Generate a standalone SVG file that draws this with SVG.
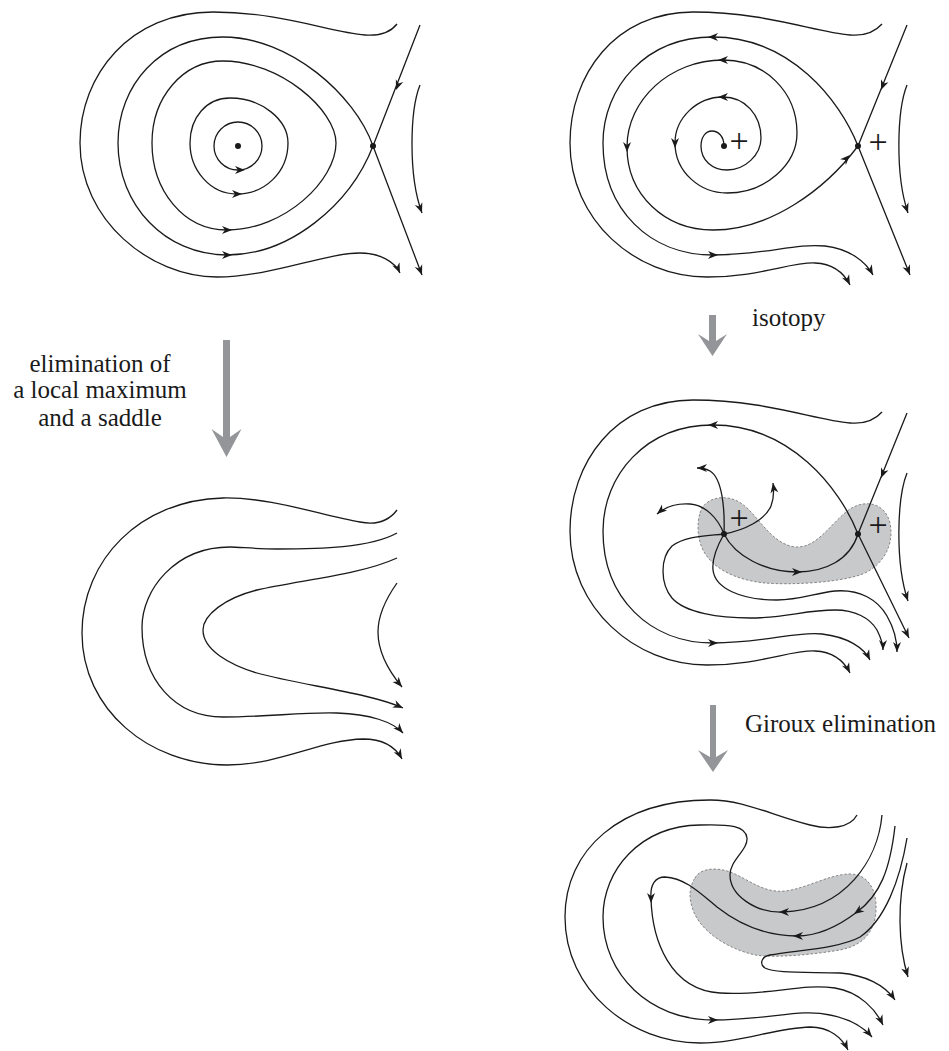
<svg xmlns="http://www.w3.org/2000/svg" width="949" height="1051" viewBox="0 0 949 1051">
<style>
.c{fill:none;stroke:#1a1a1a;stroke-width:1.3}
.e{marker-end:url(#me)}
.dot{fill:#1a1a1a}
.blob{fill:#c8c9cb;stroke:#7a7a7a;stroke-width:0.9;stroke-dasharray:2.5 1.8}
.big{fill:#939598}
.t{font-family:"Liberation Serif","Times New Roman",serif;font-size:25px;fill:#1a1a1a}
.p{font-family:"Liberation Serif","Times New Roman",serif;font-size:34px;fill:#1a1a1a;text-anchor:middle}
</style>
<defs>
<path id="ah" d="M0,0 L-10,-4 L-7,0 L-10,4 Z" fill="#1a1a1a"/>
<marker id="me" viewBox="-11 -5 12 10" refX="0" refY="0" markerWidth="12" markerHeight="10" markerUnits="userSpaceOnUse" orient="auto"><path d="M0,0 L-10,-4 L-7,0 L-10,4 Z" fill="#1a1a1a"/></marker>
</defs>

<!-- Panel 1 -->
<g id="panel1">
<path class="c e" d="M397,24 C390,33 378,36 365,35 C330,32 280,12 213,12 C130,12 80,75 80,143 C80,220 150,277 217,277 C270,277 325,253 360,253 C380,253 395,262 400,273"/>
<path class="c" d="M373,146 C355,95 290,37 223,37 C160,37 118,85 118,143 C118,205 165,255 227,255 C290,255 350,205 373,146"/>
<path class="c" d="M223,61 C280,61 336,110 336,143 C336,180 285,230 227,230 C183,230 152,190 152,143 C152,97 183,61 223,61 Z"/>
<path class="c" d="M230,98 C262,98 288,120 288,143 C288,172 265,194 237,194 C210,194 190,170 190,143 C190,117 207,98 230,98 Z"/>
<circle class="c" cx="238" cy="146" r="24"/>
<path class="c e" d="M420,25 L373,146 L422,275"/>
<path class="c e" d="M420,85 C410,110 408,175 422,213"/>
<circle class="dot" cx="238" cy="146" r="3"/>
<circle class="dot" cx="373" cy="146" r="3"/>
<use href="#ah" transform="translate(245,170)"/>
<use href="#ah" transform="translate(242,194)"/>
<use href="#ah" transform="translate(232,230)"/>
<use href="#ah" transform="translate(232,255)"/>
<use href="#ah" transform="translate(396,90) rotate(111)"/>
</g>

<!-- Panel 2 -->
<g id="panel2">
<path class="c e" d="M882,24 C874,33 862,36 850,35 C815,32 765,12 693,12 C615,12 570,75 570,143 C570,220 635,277 707,277 C760,277 790,262 815,263 C835,264 845,275 850,285"/>
<path class="c e" d="M858,146 C840,100 790,37 713,37 C645,37 603,88 603,143 C603,210 650,255 713,255 C765,255 795,243 825,246 C850,249 866,262 873,275"/>
<path class="c" d="M724,146 C724,136 718,131 712,131 C705,131 701,138 701,146 C701,160 712,170 727,170 C745,170 761,155 761,138 C761,115 745,97 723,97 C697,97 675,118 675,143 C675,172 700,193 727,193 C765,193 797,165 797,133 C797,92 765,60 723,60 C670,60 627,100 627,147 C627,195 665,230 713,230 C770,230 825,190 858,146"/>
<path class="c e" d="M907,25 L858,146 L910,275"/>
<path class="c e" d="M907,85 C897,110 895,175 908,213"/>
<circle class="dot" cx="724" cy="146" r="3"/>
<circle class="dot" cx="858" cy="146" r="3"/>
<text class="p" x="739" y="152">+</text>
<text class="p" x="878" y="153">+</text>
<use href="#ah" transform="translate(708,37) rotate(180)"/>
<use href="#ah" transform="translate(718,60) rotate(180)"/>
<use href="#ah" transform="translate(718,97) rotate(180)"/>
<use href="#ah" transform="translate(627,152) rotate(90)"/>
<use href="#ah" transform="translate(675,148) rotate(90)"/>
<use href="#ah" transform="translate(718,255)"/>
<use href="#ah" transform="translate(850,155) rotate(-45)"/>
<use href="#ah" transform="translate(881,90) rotate(112)"/>
</g>

<!-- Panel 3 -->
<g id="panel3">
<path class="c e" d="M397,510 C388,522 375,525 360,522 C320,515 270,497 223,498 C140,500 82,560 82,633 C82,710 150,765 227,765 C280,765 320,740 363,739 C385,739 396,748 402,759"/>
<path class="c e" d="M397,533 C370,548 320,549 277,549 C255,549 240,547 230,547 C175,547 142,590 142,627 C142,680 175,717 223,717 C270,717 300,712 337,713 C370,714 393,722 403,733"/>
<path class="c e" d="M397,558 C360,575 300,580 257,590 C225,598 203,615 203,630 C203,650 230,665 257,673 C300,685 370,693 403,708"/>
<path class="c e" d="M397,583 C385,600 378,615 378,632 C378,655 392,675 402,687"/>
</g>

<!-- Panel 4 -->
<g id="panel4" transform="translate(0,388)">
<path class="blob" d="M700,125 C703,112 720,106 735,112 C755,120 765,150 790,158 C815,165 830,135 850,121 C866,111 885,115 890,135 C895,160 880,180 860,187 C835,195 790,197 765,195 C735,192 712,180 703,162 C697,150 697,135 700,125 Z"/>
<path class="c e" d="M882,24 C874,33 862,36 850,35 C815,32 765,12 693,12 C615,12 570,75 570,143 C570,220 635,277 707,277 C760,277 790,262 815,263 C835,264 845,275 850,285"/>
<path class="c e" d="M858,146 C840,100 790,37 713,37 C645,37 603,88 603,143 C603,210 650,255 713,255 C765,255 795,243 822,246 C848,249 864,260 870,272"/>
<path class="c e" d="M907,25 L858,146 L909,250"/>
<path class="c e" d="M907,85 C897,110 895,175 908,213"/>
<path class="c e" d="M724,146 C718,130 705,117 690,116 C675,115 664,120 657,126"/>
<path class="c" d="M724,146 C735,168 765,184 797,184 C825,184 850,172 858,146"/>
<path class="c e" d="M724,146 C725,120 722,90 710,83 C705,80 701,80 697,80"/>
<path class="c e" d="M724,146 C716,160 712,172 713,182 C715,200 740,212 777,212 C800,212 815,205 835,203 C860,201 878,212 887,228 C895,242 897,255 897,264"/>
<path class="c e" d="M724,146 C745,142 765,132 771,118 C774,110 774,102 773,95"/>
<path class="c e" d="M724,146 C705,148 685,148 672,158 C660,170 660,195 672,210 C685,225 720,230 750,230 C785,230 805,222 835,222 C855,222 870,230 877,242 C881,250 883,256 883,262"/>
<circle class="dot" cx="724" cy="146" r="3"/>
<circle class="dot" cx="858" cy="146" r="3"/>
<text class="p" x="739" y="141">+</text>
<text class="p" x="878" y="148">+</text>
<use href="#ah" transform="translate(708,37) rotate(180)"/>
<use href="#ah" transform="translate(718,255)"/>
<use href="#ah" transform="translate(802,184)"/>
<use href="#ah" transform="translate(881,90) rotate(112)"/>
</g>

<!-- Panel 6 -->
<g id="panel6">
<path class="blob" d="M695,878 C700,868 718,866 735,874 C752,882 765,893 785,891 C805,889 830,874 850,874 C868,874 877,890 876,910 C875,930 865,945 840,950 C810,955 775,958 755,955 C725,948 700,930 693,910 C688,897 690,885 695,878 Z"/>
<path class="c e" d="M857,815 C850,828 830,830 810,825 C770,815 745,800 710,800 C620,800 565,850 565,917 C565,990 630,1043 700,1043 C740,1043 775,1028 810,1027 C830,1027 842,1038 848,1050"/>
<path class="c e" d="M882,815 C878,860 845,910 783,912 C755,913 730,895 730,875 C730,860 748,850 747,838 C746,826 730,824 700,825 C640,826 603,870 603,917 C603,975 650,1020 713,1020 C770,1020 800,1008 830,1015 C855,1020 866,1030 872,1037"/>
<path class="c e" d="M895,826 C890,870 880,895 857,912 C840,925 820,936 797,936 C765,936 740,925 717,907 C700,893 685,878 665,877 C655,877 650,885 651,898 C652,940 670,990 720,993 C770,996 800,983 835,988 C860,992 876,1010 883,1025"/>
<path class="c e" d="M907,838 C900,880 885,920 860,937 C840,948 800,950 770,955 C760,957 760,965 765,968 C775,973 800,972 840,973 C865,975 885,985 895,1000"/>
<path class="c e" d="M907,863 C897,900 898,945 908,977"/>
<use href="#ah" transform="translate(779,912) rotate(180)"/>
<use href="#ah" transform="translate(854,914) rotate(145)"/>
<use href="#ah" transform="translate(793,936) rotate(180)"/>
<use href="#ah" transform="translate(651,903) rotate(90)"/>
<use href="#ah" transform="translate(718,1020)"/>
</g>

<!-- Transition arrows and labels -->
<g id="arrow-left">
<path class="big" d="M223,340 H230 V437 L241.5,429 L226.5,457 L211.5,429 L223,437 Z"/>
<text class="t" text-anchor="middle"><tspan x="100" y="372">elimination of</tspan><tspan x="100" y="398">a local maximum</tspan><tspan x="100" y="426">and a saddle</tspan></text>
</g>
<g id="arrow-isotopy">
<path class="big" d="M709,315 H716 V341 L727,334 L712.5,356 L698,334 L709,341 Z"/>
<text class="t" x="752" y="326">isotopy</text>
</g>
<g id="arrow-giroux">
<path class="big" d="M710,705 H716 V757 L728,750 L713,772 L698,750 L710,757 Z"/>
<text class="t" x="745" y="732">Giroux elimination</text>
</g>
</svg>
